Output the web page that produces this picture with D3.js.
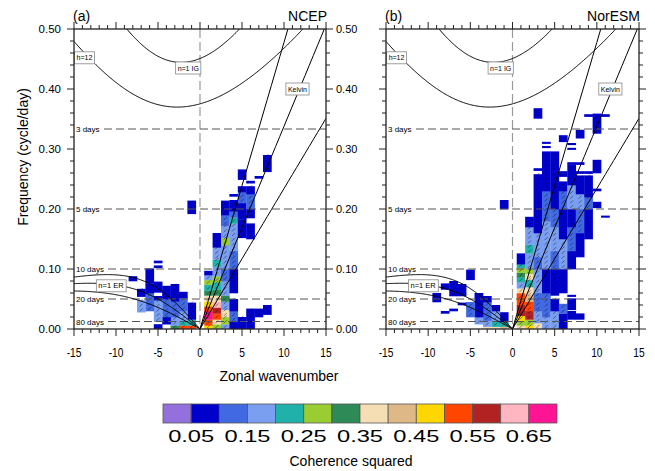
<!DOCTYPE html>
<html>
<head>
<meta charset="utf-8">
<script src="https://cdn.jsdelivr.net/npm/d3@7"></script>
<style>
  body { margin: 0; background: #fff; }
  text { font-family: "Liberation Sans", Arial, sans-serif; }
</style>
</head>
<body>
<div id="chart"></div>
<script>
// ---- data ----
const levels = [0.05, 0.10, 0.15, 0.20, 0.25, 0.30, 0.35, 0.40, 0.45, 0.50, 0.55, 0.60, 0.65];
const levelLabels = ["0.05", "0.15", "0.25", "0.35", "0.45", "0.55", "0.65"];
const colors = ["#9370db", "#0000cd", "#4169e1", "#7b9ff0", "#20b2aa", "#9acd32", "#2e8b57",
                "#f5deb3", "#deb887", "#ffd700", "#ff4500", "#b22222", "#ffb6c1", "#ff1493"];
const xTicks = [-15, -10, -5, 0, 5, 10, 15];
const yTicks = [0, 0.1, 0.2, 0.3, 0.4, 0.5];
const periods = [3, 5, 10, 20, 80];
const depths = [12, 25, 50];

// coherence runs: [wavenumber, freq low, freq high, colour level]
const cellsA = [
  [1, 0.000, 0.006, 9], [1, 0.006, 0.016, 10], [1, 0.016, 0.030, 13], [1, 0.030, 0.038, 10], [1, 0.038, 0.046, 9],
  [1, 0.046, 0.056, 7], [1, 0.056, 0.064, 6], [1, 0.064, 0.074, 4], [1, 0.074, 0.082, 5], [1, 0.082, 0.090, 3],
  [1, 0.090, 0.097, 1],
  [2, 0.000, 0.008, 5], [2, 0.008, 0.016, 7], [2, 0.016, 0.026, 10], [2, 0.026, 0.036, 11], [2, 0.036, 0.046, 12],
  [2, 0.046, 0.056, 7], [2, 0.056, 0.066, 6], [2, 0.066, 0.078, 4], [2, 0.078, 0.088, 5], [2, 0.088, 0.104, 3],
  [2, 0.104, 0.116, 4], [2, 0.116, 0.136, 3], [2, 0.136, 0.160, 1],
  [3, 0.000, 0.008, 3], [3, 0.008, 0.020, 5], [3, 0.020, 0.032, 7], [3, 0.032, 0.046, 3], [3, 0.046, 0.056, 6],
  [3, 0.056, 0.080, 3], [3, 0.080, 0.100, 2], [3, 0.100, 0.140, 3], [3, 0.140, 0.152, 5], [3, 0.152, 0.172, 3],
  [3, 0.172, 0.190, 2], [3, 0.190, 0.214, 1],
  [4, 0.000, 0.012, 1], [4, 0.012, 0.030, 2], [4, 0.030, 0.050, 1], [4, 0.060, 0.100, 1], [4, 0.100, 0.130, 2],
  [4, 0.130, 0.176, 3], [4, 0.176, 0.186, 4], [4, 0.186, 0.196, 2], [4, 0.196, 0.215, 1], [4, 0.221, 0.225, 1],
  [5, 0.000, 0.020, 1], [5, 0.152, 0.183, 1], [5, 0.183, 0.210, 1], [5, 0.210, 0.228, 2], [5, 0.228, 0.238, 1],
  [5, 0.249, 0.266, 1],
  [6, 0.000, 0.020, 1], [6, 0.020, 0.034, 1], [6, 0.150, 0.176, 1], [6, 0.185, 0.200, 1], [6, 0.200, 0.225, 2],
  [6, 0.225, 0.238, 1], [6, 0.243, 0.247, 1],
  [7, 0.020, 0.034, 1], [7, 0.251, 0.255, 1], [8, 0.024, 0.040, 1], [8, 0.262, 0.290, 1],
  [-1, 0.000, 0.006, 10], [-1, 0.006, 0.016, 4], [-1, 0.016, 0.044, 1], [-1, 0.192, 0.214, 1],
  [-2, 0.000, 0.006, 10], [-2, 0.006, 0.014, 4], [-2, 0.014, 0.030, 3], [-2, 0.030, 0.052, 2], [-2, 0.052, 0.062, 1],
  [-3, 0.000, 0.006, 6], [-3, 0.006, 0.020, 3], [-3, 0.020, 0.046, 2], [-3, 0.046, 0.075, 1],
  [-4, 0.008, 0.020, 1], [-4, 0.020, 0.050, 2], [-4, 0.050, 0.072, 1],
  [-5, 0.000, 0.008, 1], [-5, 0.012, 0.048, 3], [-5, 0.048, 0.055, 1], [-5, 0.061, 0.079, 1],
  [-5, 0.102, 0.106, 1], [-5, 0.110, 0.114, 1],
  [-6, 0.030, 0.060, 2], [-6, 0.060, 0.076, 1], [-6, 0.076, 0.101, 1],
  [-7, 0.028, 0.048, 3], [-7, 0.054, 0.067, 1],
  [-8, 0.080, 0.088, 1]
];
const cellsB = [
  [3, 0.351, 0.368, 1], [10, 0.326, 0.359, 1], [9, 0.354, 0.358, 1], [11, 0.354, 0.358, 1],
  [6, 0.312, 0.323, 1], [8, 0.318, 0.332, 1], [4, 0.302, 0.305, 1], [4, 0.309, 0.312, 1],
  [7, 0.299, 0.302, 1], [7, 0.307, 0.310, 1],
  [10, 0.260, 0.282, 1], [7, 0.274, 0.278, 1], [8, 0.274, 0.278, 1], [3, 0.264, 0.268, 1],
  [6, 0.259, 0.263, 1], [8, 0.259, 0.263, 1], [9, 0.259, 0.263, 1],
  [-1, 0.200, 0.215, 1], [10, 0.202, 0.212, 1], [11, 0.186, 0.189, 1], [10, 0.230, 0.234, 1],
  [1, 0.000, 0.006, 7], [1, 0.006, 0.014, 5], [1, 0.014, 0.022, 9], [1, 0.022, 0.040, 11], [1, 0.040, 0.050, 10],
  [1, 0.050, 0.060, 10], [1, 0.060, 0.068, 7], [1, 0.068, 0.078, 3], [1, 0.078, 0.086, 4], [1, 0.086, 0.094, 6],
  [1, 0.094, 0.102, 5], [1, 0.102, 0.108, 4], [1, 0.108, 0.126, 1],
  [2, 0.000, 0.006, 9], [2, 0.006, 0.016, 5], [2, 0.016, 0.030, 11], [2, 0.030, 0.046, 10], [2, 0.046, 0.058, 8],
  [2, 0.058, 0.070, 7], [2, 0.070, 0.082, 4], [2, 0.082, 0.092, 7], [2, 0.092, 0.100, 5], [2, 0.100, 0.126, 3],
  [2, 0.126, 0.141, 4], [2, 0.141, 0.170, 3], [2, 0.170, 0.187, 1],
  [3, 0.000, 0.010, 7], [3, 0.010, 0.030, 3], [3, 0.030, 0.060, 2], [3, 0.060, 0.100, 3], [3, 0.100, 0.120, 2],
  [3, 0.120, 0.160, 3], [3, 0.160, 0.258, 1],
  [4, 0.000, 0.020, 3], [4, 0.020, 0.060, 2], [4, 0.060, 0.100, 1], [4, 0.100, 0.180, 3], [4, 0.180, 0.230, 2],
  [4, 0.230, 0.296, 1],
  [5, 0.000, 0.030, 3], [5, 0.030, 0.050, 1], [5, 0.056, 0.100, 1], [5, 0.100, 0.130, 2], [5, 0.130, 0.170, 3],
  [5, 0.170, 0.200, 2], [5, 0.200, 0.296, 1],
  [6, 0.000, 0.026, 1], [6, 0.026, 0.042, 2], [6, 0.060, 0.100, 1], [6, 0.100, 0.150, 3], [6, 0.150, 0.200, 1],
  [6, 0.200, 0.230, 2], [6, 0.230, 0.246, 1], [6, 0.254, 0.259, 1],
  [7, 0.016, 0.030, 1], [7, 0.032, 0.051, 1], [7, 0.054, 0.057, 1], [7, 0.100, 0.130, 1], [7, 0.130, 0.170, 2],
  [7, 0.170, 0.200, 1], [7, 0.200, 0.240, 3], [7, 0.240, 0.274, 1],
  [8, 0.016, 0.026, 1], [8, 0.120, 0.160, 1], [8, 0.160, 0.200, 2], [8, 0.200, 0.225, 3], [8, 0.225, 0.256, 1],
  [9, 0.150, 0.200, 1], [9, 0.200, 0.220, 2], [9, 0.220, 0.256, 1],
  [-1, 0.000, 0.004, 8], [-1, 0.004, 0.012, 4], [-1, 0.012, 0.028, 1],
  [-2, 0.000, 0.004, 7], [-2, 0.004, 0.014, 4], [-2, 0.014, 0.030, 3], [-2, 0.030, 0.040, 1],
  [-3, 0.000, 0.004, 7], [-3, 0.004, 0.014, 3], [-3, 0.014, 0.045, 2], [-3, 0.045, 0.055, 1],
  [-4, 0.008, 0.020, 3], [-4, 0.020, 0.060, 1],
  [-5, 0.020, 0.045, 2], [-5, 0.082, 0.099, 1],
  [-6, 0.040, 0.044, 1], [-6, 0.055, 0.075, 1],
  [-7, 0.030, 0.034, 1], [-7, 0.055, 0.080, 1],
  [-8, 0.026, 0.030, 1], [-8, 0.066, 0.076, 1], [-9, 0.045, 0.060, 1]
];

// ---- layout ----
const W = 655, H = 471;
const yTop = 29, yBot = 329;
const panels = [
  {x0: 74, x1: 326, tag: "(a)", name: "NCEP", cells: cellsA},
  {x0: 386, x1: 639, tag: "(b)", name: "NorESM", cells: cellsB}
];

const svg = d3.select("#chart").append("svg").attr("width", W).attr("height", H);

// shallow water dispersion (n=1), frequencies in cycles/day
const g0 = 9.8, Re = 6.371e6, beta = 2 * 7.292e-5 / Re;
const toCpd = w => w * 86400 / (2 * Math.PI);
function solveCubic(k, c, w) {
  const kd = k / Re;
  for (let i = 0; i < 50; i++) {
    const F = w * w * w - (c * c * kd * kd + 3 * beta * c) * w - beta * c * c * kd;
    const dF = 3 * w * w - (c * c * kd * kd + 3 * beta * c);
    w = w - F / dF;
  }
  return w;
}
function igCurve(h) {
  const c = Math.sqrt(g0 * h);
  return d3.range(-15, 15.01, 0.1).map(k => {
    const kd = k / Re;
    return [k, toCpd(solveCubic(k, c, Math.sqrt(c * c * kd * kd + 3 * beta * c) * 1.1))];
  });
}
function erCurve(h) {
  const c = Math.sqrt(g0 * h);
  return d3.range(-15, 0.001, 0.1).map(k => {
    const kd = k / Re;
    return [k, toCpd(solveCubic(k, c, -beta * kd / (kd * kd + 3 * beta / c)))];
  });
}
function kelvinCurve(h) {
  const c = Math.sqrt(g0 * h);
  return d3.range(0, 15.01, 0.5).map(k => [k, toCpd(c * k / Re)]);
}

panels.forEach((p, pi) => {
  const x = d3.scaleLinear().domain([-15, 15]).range([p.x0, p.x1]);
  const y = d3.scaleLinear().domain([0, 0.5]).range([yBot, yTop]);
  const g = svg.append("g");
  const clipId = "clip" + pi;
  svg.append("clipPath").attr("id", clipId).append("rect")
    .attr("x", p.x0).attr("y", yTop).attr("width", p.x1 - p.x0).attr("height", yBot - yTop);

  // cells
  const cg = g.append("g").attr("clip-path", `url(#${clipId})`);
  cg.selectAll("rect.cell").data(p.cells).enter().append("rect")
    .attr("x", d => x(d[0] - 0.5)).attr("width", x(1) - x(0) + 0.3)
    .attr("y", d => y(d[2])).attr("height", d => Math.max(1.6, y(d[1]) - y(d[2]) + 0.3))
    .attr("fill", d => colors[d[3]]);
  // phase marks
  const marks = [];
  p.cells.forEach(d => {
    for (let f = d[1] + 0.004; f < d[2]; f += 0.0078) marks.push([d[0], f]);
  });
  cg.selectAll("line.ph").data(marks).enter().append("line")
    .attr("x1", d => x(d[0]) - 1.5).attr("x2", d => x(d[0]) + 1.5)
    .attr("y1", d => y(d[1]) + 1.5).attr("y2", d => y(d[1]) - 1.5)
    .attr("stroke", "#000").attr("stroke-width", 0.6).attr("opacity", 0.7);

  // zero wavenumber line
  g.append("line").attr("x1", x(0)).attr("x2", x(0)).attr("y1", yTop).attr("y2", yBot)
    .attr("stroke", "#999").attr("stroke-width", 1.2).attr("stroke-dasharray", "9,4");

  // period lines
  periods.forEach(per => {
    const yy = y(1 / per);
    g.append("text").attr("x", p.x0 + 2).attr("y", yy + 3).attr("font-size", 8).text(per + " days");
    g.append("line").attr("x1", p.x0 + (per < 10 ? 30 : 34)).attr("x2", p.x1).attr("y1", yy).attr("y2", yy)
      .attr("stroke", "#555").attr("stroke-width", 1).attr("stroke-dasharray", "8,4");
  });

  // dispersion curves
  const line = d3.line().x(d => x(d[0])).y(d => y(d[1]));
  const lg = g.append("g").attr("clip-path", `url(#${clipId})`);
  depths.forEach(h => {
    lg.append("path").attr("d", line(kelvinCurve(h))).attr("fill", "none").attr("stroke", "#000").attr("stroke-width", 1);
    lg.append("path").attr("d", line(erCurve(h))).attr("fill", "none").attr("stroke", "#000").attr("stroke-width", 1);
    lg.append("path").attr("d", line(igCurve(h))).attr("fill", "none").attr("stroke", "#000").attr("stroke-width", 1);
  });

  // curve labels
  const boxes = [
    {t: "h=12", k: -13.75, f: 0.452, fs: 7},
    {t: "n=1 IG", k: -1.4, f: 0.435, fs: 7},
    {t: "Kelvin", k: 11.6, f: 0.400, fs: 7},
    {t: "n=1 ER", k: -10.6, f: 0.072, fs: 7.5}
  ];
  boxes.forEach(b => {
    const bx = x(b.k), by = y(b.f);
    const t = g.append("text").attr("x", bx).attr("y", by + 2.5).attr("text-anchor", "middle")
      .attr("font-size", b.fs).text(b.t);
    const bb = t.node().getBBox();
    g.insert("rect", () => t.node()).attr("x", bb.x - 2).attr("y", by - 6).attr("width", bb.width + 4).attr("height", 12)
      .attr("fill", "#fff").attr("stroke", "#888").attr("stroke-width", 0.8);
  });

  // frame
  g.append("rect").attr("x", p.x0).attr("y", yTop).attr("width", p.x1 - p.x0).attr("height", yBot - yTop)
    .attr("fill", "none").attr("stroke", "#222").attr("stroke-width", 1.3);

  // ticks
  const xMinor = d3.range(-15, 16, 1), yMinor = d3.range(0, 0.501, 0.02);
  xMinor.forEach(k => {
    const len = k % 5 === 0 ? 7 : 4;
    g.append("line").attr("x1", x(k)).attr("x2", x(k)).attr("y1", yBot).attr("y2", yBot + len).attr("stroke", "#222");
    g.append("line").attr("x1", x(k)).attr("x2", x(k)).attr("y1", yTop).attr("y2", yTop - len).attr("stroke", "#222");
  });
  yMinor.forEach((f, i) => {
    const len = i % 5 === 0 ? 7 : 4;
    g.append("line").attr("x1", p.x0).attr("x2", p.x0 - len).attr("y1", y(f)).attr("y2", y(f)).attr("stroke", "#222");
    g.append("line").attr("x1", p.x1).attr("x2", p.x1 + len).attr("y1", y(f)).attr("y2", y(f)).attr("stroke", "#222");
  });
  xTicks.forEach(k => {
    g.append("text").attr("transform", `translate(${x(k)},357) scale(0.85,1)`).attr("text-anchor", "middle")
      .attr("font-size", 12).text(k);
  });
  yTicks.forEach(f => {
    if (pi === 0) {
      g.append("text").attr("x", p.x0 - 13).attr("y", y(f) + 4).attr("text-anchor", "end")
        .attr("font-size", 11.5).text(f.toFixed(2));
      g.append("text").attr("x", p.x1 + 10).attr("y", y(f) + 4).attr("text-anchor", "start")
        .attr("font-size", 11).text(f.toFixed(2));
    }
  });

  // titles
  g.append("text").attr("x", p.x0 - 1).attr("y", 21).attr("font-size", 14).text(p.tag);
  g.append("text").attr("x", p.x1 + 1).attr("y", 21).attr("text-anchor", "end").attr("font-size", 14).text(p.name);
});

// axis titles
svg.append("text").attr("transform", "translate(28,157) rotate(-90)").attr("text-anchor", "middle")
  .attr("font-size", 14).text("Frequency (cycle/day)");
svg.append("text").attr("x", 279).attr("y", 381).attr("text-anchor", "middle")
  .attr("font-size", 14).text("Zonal wavenumber");

// colour bar
const cb = d3.scaleBand().domain(d3.range(colors.length)).range([163, 557]);
svg.selectAll("rect.cb").data(colors).enter().append("rect")
  .attr("x", (d, i) => cb(i)).attr("y", 404).attr("width", cb.bandwidth()).attr("height", 19)
  .attr("fill", d => d).attr("stroke", "#555").attr("stroke-width", 0.8);
levelLabels.forEach((l, i) => {
  svg.append("text").attr("x", cb(2 * i + 1)).attr("y", 442).attr("text-anchor", "middle")
    .attr("font-size", 16).attr("textLength", 46).attr("lengthAdjust", "spacingAndGlyphs").text(l);
});
svg.append("text").attr("x", 351).attr("y", 466).attr("text-anchor", "middle")
  .attr("font-size", 14).text("Coherence squared");
</script>
</body>
</html>
